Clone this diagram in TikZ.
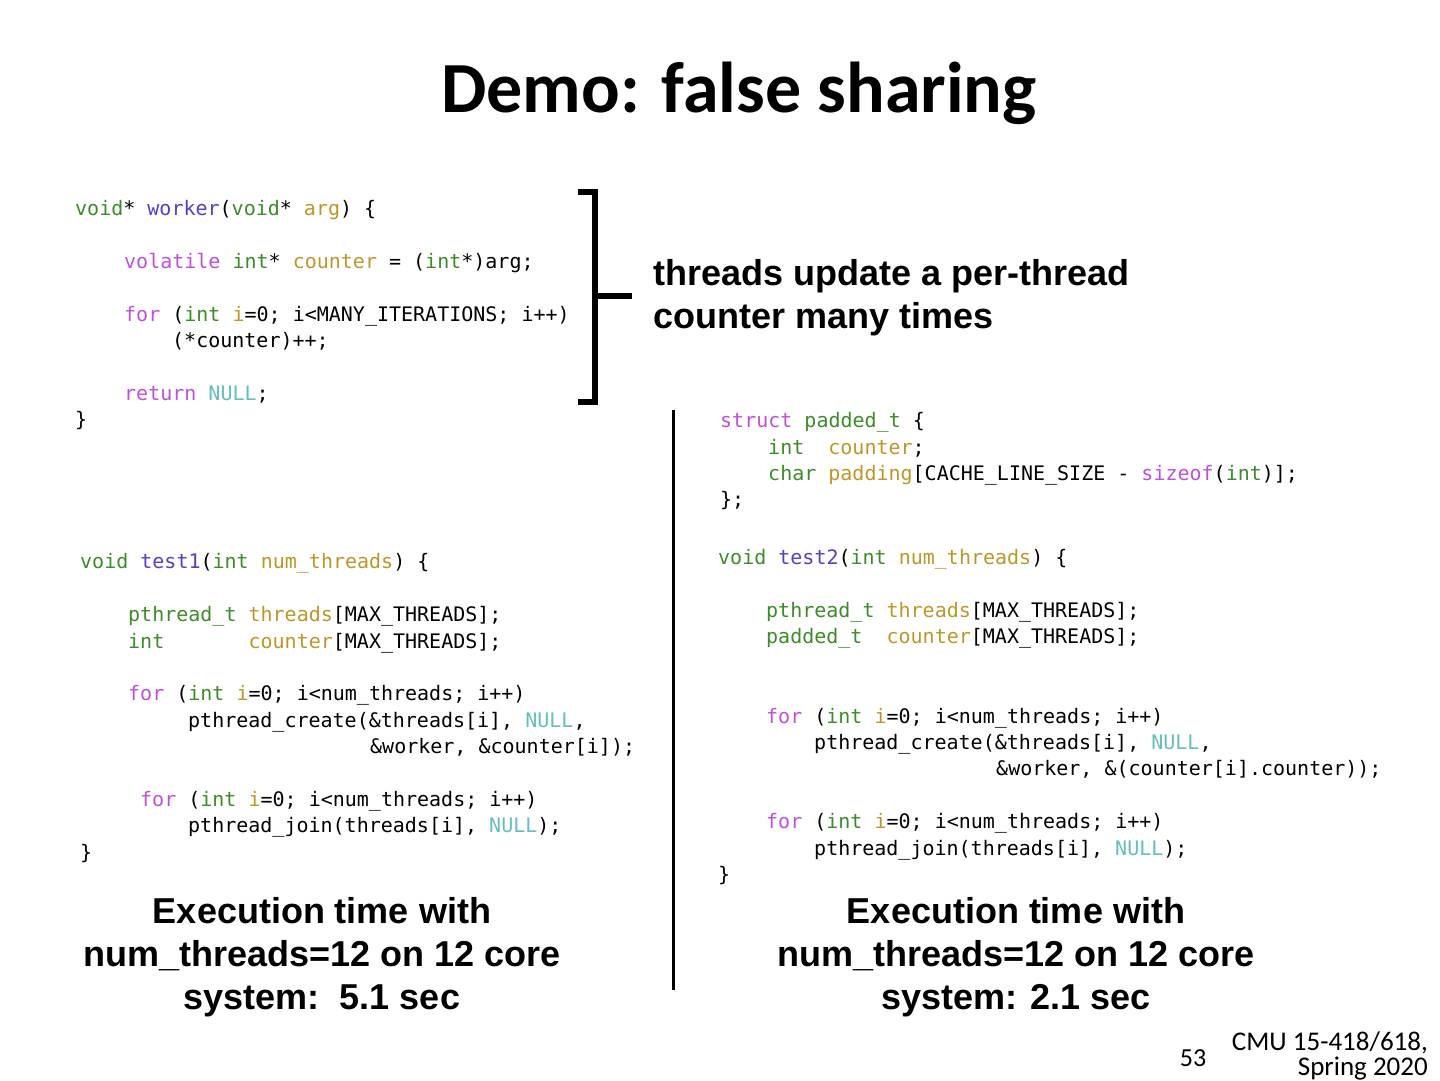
\documentclass[tikz,border=0pt]{standalone}
\usepackage{fontspec}
\setmainfont{Liberation Sans}
\setmonofont{DejaVu Sans Mono}
\newfontfamily\titlefont{Carlito}
\definecolor{cg}{RGB}{60,140,40}
\definecolor{cb}{RGB}{90,60,200}
\definecolor{cm}{RGB}{190,80,220}
\definecolor{cy}{RGB}{190,150,40}
\definecolor{cc}{RGB}{100,190,190}
\newcommand{\G}[1]{\textcolor{cg}{#1}}
\newcommand{\B}[1]{\textcolor{cb}{#1}}
\newcommand{\M}[1]{\textcolor{cm}{#1}}
\newcommand{\Y}[1]{\textcolor{cy}{#1}}
\newcommand{\C}[1]{\textcolor{cc}{#1}}
\tikzset{code/.style={anchor=base west,inner sep=0pt,font=\ttfamily\fontsize{20}{24}\selectfont},
big/.style={align=center,inner sep=0pt,font=\bfseries\fontsize{36}{43}\selectfont}}
\begin{document}
\begin{tikzpicture}[x=1pt,y=-1pt]
\useasboundingbox (0,0) rectangle (1440,1080);
\node[inner sep=0pt,font=\titlefont\bfseries\fontsize{72}{76}\selectfont] (title) at (739,93) {Demo: false sharing};
% left worker
\node[code] (w1) at (75,215) {\G{void}* \B{worker}(\G{void}* \Y{arg}) \{};
\node[code] (w2) at (124,268) {\M{volatile} \G{int}* \Y{counter} = (\G{int}*)arg;};
\node[code] (w3) at (124,321) {\M{for} (\G{int} \Y{i}=0; i<MANY\_ITERATIONS; i++)};
\node[code] (w4) at (172,347) {(*counter)++;};
\node[code] (w5) at (124,400) {\M{return} \C{NULL};};
\node[code] (w6) at (75,426) {\}};
% bracket
\draw[line width=6pt] (578,192) -- (595,192) -- (595,402) -- (578,402);
\draw[line width=6pt] (595,296) -- (632,296);
\node[big,anchor=west,align=left] (note) at (653,298) {threads update a per-thread\\counter many times};
% divider
\draw[line width=3pt] (673,410) -- (673,990);
% test1
\node[code] (a1) at (80,568) {\G{void} \B{test1}(\G{int} \Y{num\_threads}) \{};
\node[code] (a2) at (128,621) {\G{pthread\_t} \Y{threads}[MAX\_THREADS];};
\node[code] (a3) at (128,648) {\G{int}\ \ \ \ \ \ \ \Y{counter}[MAX\_THREADS];};
\node[code] (a4) at (128,700) {\M{for} (\G{int} \Y{i}=0; i<num\_threads; i++)};
\node[code] (a5) at (188,727) {pthread\_create(\&threads[i], \C{NULL},};
\node[code] (a6) at (370,753) {\&worker, \&counter[i]);};
\node[code] (a7) at (140,806) {\M{for} (\G{int} \Y{i}=0; i<num\_threads; i++)};
\node[code] (a8) at (188,832) {pthread\_join(threads[i], \C{NULL});};
\node[code] (a9) at (80,859) {\}};
% right
\node[code] (s1) at (720,427) {\M{struct} \G{padded\_t} \{};
\node[code] (s2) at (768,454) {\G{int}\ \ \Y{counter};};
\node[code] (s3) at (768,480) {\G{char} \Y{padding}[CACHE\_LINE\_SIZE - \M{sizeof}(\G{int})];};
\node[code] (s4) at (720,506) {\};};
\node[code] (b1) at (718,564) {\G{void} \B{test2}(\G{int} \Y{num\_threads}) \{};
\node[code] (b2) at (766,617) {\G{pthread\_t} \Y{threads}[MAX\_THREADS];};
\node[code] (b3) at (766,643) {\G{padded\_t}\ \ \Y{counter}[MAX\_THREADS];};
\node[code] (b4) at (766,723) {\M{for} (\G{int} \Y{i}=0; i<num\_threads; i++)};
\node[code] (b5) at (814,749) {pthread\_create(\&threads[i], \C{NULL},};
\node[code] (b6) at (996,775) {\&worker, \&(counter[i].counter));};
\node[code] (b7) at (766,828) {\M{for} (\G{int} \Y{i}=0; i<num\_threads; i++)};
\node[code] (b8) at (814,855) {pthread\_join(threads[i], \C{NULL});};
\node[code] (b9) at (718,881) {\}};
% results
\node[big] (r1) at (322,957) {Execution time with\\num\_threads=12 on 12 core\\system:\ \ 5.1 sec};
\node[big] (r2) at (1016,957) {Execution time with\\num\_threads=12 on 12 core\\system: 2.1 sec};
% footer
\node[inner sep=0pt,font=\titlefont\fontsize{26}{26}\selectfont] (pg) at (1193,1058) {53};
\node[inner sep=0pt,anchor=east,align=right,font=\titlefont\fontsize{27}{25}\selectfont] (cmu) at (1428,1056) {CMU 15-418/618,\\Spring 2020};
\end{tikzpicture}
\end{document}
